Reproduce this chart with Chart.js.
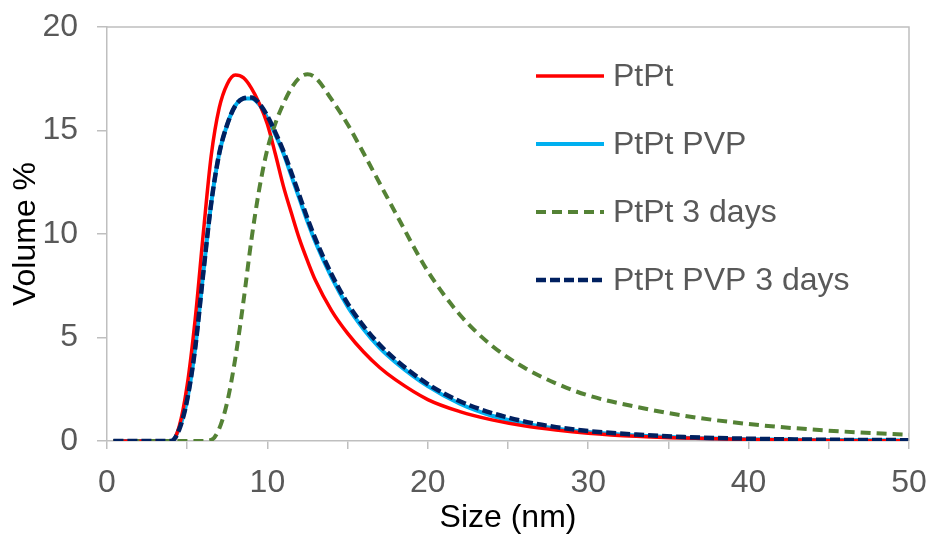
<!DOCTYPE html>
<html>
<head>
<meta charset="utf-8">
<script src="https://cdn.jsdelivr.net/npm/chart.js@4.4.1/dist/chart.umd.min.js"></script>
<style>
  html, body { margin: 0; padding: 0; background: #fff; }
  #wrap { width: 938px; height: 537px; }
</style>
</head>
<body>
<div id="wrap"><canvas id="dls"></canvas></div>
<script>
// Size distribution by volume
const sizes = [0.4, 1, 2, 3, 3.5, 4, 4.5, 5, 5.5, 6, 6.5, 7, 7.5, 8, 8.5, 9, 9.5, 10, 10.5, 11, 11.5, 12, 12.5, 13, 14, 15, 16, 17, 18, 20, 22, 24, 26, 28, 30, 33, 36, 40, 45, 50];
const ptpt = [0, 0, 0, 0, 0, 0, 0.7, 2.7, 5.9, 10.0, 13.8, 16.1, 17.25, 17.68, 17.55, 17.05, 16.3, 15.3, 13.85, 12.3, 11.0, 9.75, 8.7, 7.75, 6.3, 5.2, 4.3, 3.55, 2.95, 2.0, 1.42, 1.02, 0.73, 0.53, 0.38, 0.23, 0.14, 0.07, 0.03, 0.01];
const ptptPvp = [0, 0, 0, 0, 0, 0, 0.6, 2.0, 4.5, 8.1, 11.5, 13.9, 15.3, 16.2, 16.55, 16.55, 16.25, 15.6, 14.8, 13.9, 12.8, 11.7, 10.6, 9.6, 7.9, 6.5, 5.4, 4.5, 3.8, 2.65, 1.8, 1.22, 0.85, 0.6, 0.43, 0.26, 0.16, 0.09, 0.05, 0.03];
const ptpt3d = [0, 0, 0, 0, 0, 0, 0, 0, 0, 0, 0.05, 0.6, 1.9, 4.0, 6.7, 9.7, 12.2, 14.1, 15.35, 16.3, 17.05, 17.55, 17.72, 17.55, 16.5, 15.3, 13.9, 12.45, 11.0, 8.2, 6.1, 4.6, 3.55, 2.78, 2.2, 1.65, 1.22, 0.82, 0.5, 0.3];
const ptptPvp3d = [0, 0, 0, 0, 0, 0, 0.55, 2.0, 4.5, 8.1, 11.5, 13.9, 15.3, 16.2, 16.55, 16.6, 16.3, 15.7, 14.9, 14.0, 12.95, 11.85, 10.75, 9.75, 8.05, 6.65, 5.55, 4.65, 3.92, 2.75, 1.92, 1.35, 0.95, 0.67, 0.48, 0.31, 0.19, 0.11, 0.06, 0.04];
const seriesNames = ['PtPt', 'PtPt PVP', 'PtPt 3 days', 'PtPt PVP 3 days'];
const xTicks = [0, 10, 20, 30, 40, 50];
const yTicks = [0, 5, 10, 15, 20];

const FONT = "'Liberation Sans', Arial, sans-serif";
const GREY = '#595959';
const AXIS = '#BFBFBF';

function pts(vals) { return sizes.map((s, i) => ({ x: s, y: vals[i] })); }

function line(label, vals, color, width, dash, order) {
  return {
    label: label,
    data: pts(vals),
    borderColor: color,
    backgroundColor: color,
    borderWidth: width,
    borderDash: dash || [],
    pointRadius: 0,
    fill: false,
    order: order,
    cubicInterpolationMode: 'monotone'
  };
}

// plot-area frame and in-plot legend
const framePlugin = {
  id: 'frame',
  afterDraw(chart) {
    const ctx = chart.ctx, a = chart.chartArea;
    ctx.save();
    ctx.strokeStyle = AXIS;
    ctx.lineWidth = 1.5;
    ctx.beginPath();
    ctx.moveTo(a.left, a.top); ctx.lineTo(a.right, a.top); ctx.lineTo(a.right, a.bottom);
    ctx.stroke();

    const x0 = a.left + 429, x1 = a.left + 497, tx = a.left + 506;
    chart.data.datasets.forEach((ds, i) => {
      const y = a.top + 49 + i * 68;
      ctx.strokeStyle = ds.borderColor;
      ctx.lineWidth = ds.borderWidth;
      ctx.setLineDash(ds.borderDash);
      ctx.beginPath(); ctx.moveTo(x0, y); ctx.lineTo(x1, y); ctx.stroke();
      ctx.setLineDash([]);
      ctx.fillStyle = GREY;
      ctx.font = '32px ' + FONT;
      ctx.textBaseline = 'middle';
      ctx.fillText(ds.label, tx, y + 1);
    });
    ctx.restore();
  }
};

new Chart(document.getElementById('dls'), {
  type: 'line',
  data: {
    datasets: [
      line(seriesNames[0], ptpt, '#FF0000', 3.5, [], 3),
      line(seriesNames[1], ptptPvp, '#00B0F0', 4, [], 4),
      line(seriesNames[2], ptpt3d, '#548235', 4, [10, 6], 2),
      line(seriesNames[3], ptptPvp3d, '#002060', 4.5, [10, 4], 1)
    ]
  },
  options: {
    responsive: true,
    maintainAspectRatio: false,
    animation: false,
    layout: { padding: { top: 27, right: 29, left: 0, bottom: 0 } },
    plugins: { legend: { display: false }, tooltip: { enabled: false } },
    scales: {
      x: {
        type: 'linear',
        min: 0, max: 50,
        afterFit(s) { s.height = 96; s.paddingLeft = 0; s.paddingRight = 0; },
        afterBuildTicks(s) { s.ticks = []; for (let v = 0; v <= 50; v += 5) s.ticks.push({ value: v }); },
        ticks: {
          color: GREY,
          font: { family: FONT, size: 32 },
          padding: 15,
          maxRotation: 0,
          autoSkip: false,
          callback: v => xTicks.includes(v) ? String(v) : ''
        },
        grid: { drawOnChartArea: false, color: AXIS, tickLength: 8, lineWidth: 1.5 },
        border: { color: AXIS, width: 1.5 },
        title: { display: true, text: 'Size (nm)', color: '#000', font: { family: FONT, size: 32 }, padding: { top: 0, bottom: 0 } }
      },
      y: {
        min: 0, max: 20,
        afterFit(s) { s.width = 107; s.paddingTop = 0; s.paddingBottom = 0; },
        afterBuildTicks(s) { s.ticks = yTicks.map(v => ({ value: v })); },
        ticks: { color: GREY, font: { family: FONT, size: 32 }, padding: 19 },
        grid: { drawOnChartArea: false, color: AXIS, tickLength: 10, lineWidth: 1.5 },
        border: { color: AXIS, width: 1.5 },
        title: { display: true, text: 'Volume %', color: '#000', font: { family: FONT, size: 32 }, padding: { top: 7, bottom: 0 } }
      }
    }
  },
  plugins: [framePlugin]
});
</script>
</body>
</html>
